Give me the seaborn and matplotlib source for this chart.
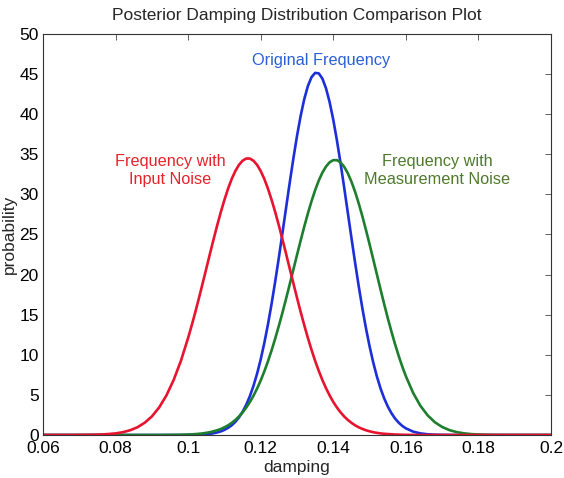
import matplotlib
matplotlib.use("Agg")
import matplotlib.pyplot as plt
import pandas as pd
import seaborn as sns

# damping grid (finer where the curves bend)
damping = [0.060, 0.062, 0.064, 0.066, 0.068, 0.070, 0.072, 0.074, 0.076, 0.078,
           0.080, 0.082, 0.084, 0.086, 0.088, 0.090, 0.092, 0.094, 0.096, 0.098,
           0.100, 0.101, 0.102, 0.103, 0.104, 0.105, 0.106, 0.107, 0.108, 0.109,
           0.110, 0.111, 0.112, 0.113, 0.114, 0.115, 0.116, 0.117, 0.118, 0.119,
           0.120, 0.121, 0.122, 0.123, 0.124, 0.125, 0.126, 0.127, 0.128, 0.129,
           0.130, 0.131, 0.132, 0.133, 0.134, 0.135, 0.136, 0.137, 0.138, 0.139,
           0.140, 0.141, 0.142, 0.143, 0.144, 0.145, 0.146, 0.147, 0.148, 0.149,
           0.150, 0.151, 0.152, 0.153, 0.154, 0.155, 0.156, 0.157, 0.158, 0.159,
           0.160, 0.162, 0.164, 0.166, 0.168, 0.170, 0.172, 0.174, 0.176, 0.178,
           0.180, 0.182, 0.184, 0.186, 0.188, 0.190, 0.192, 0.194, 0.196, 0.198,
           0.200]

original = [0.0, 0.0, 0.0, 0.0, 0.0, 0.0, 0.0, 0.0, 0.0, 0.0,
            0.0, 0.0, 0.0, 0.0, 0.0, 0.0, 0.0, 0.0, 0.0, 0.0,
            0.01, 0.02, 0.03, 0.04, 0.07, 0.10, 0.15, 0.22, 0.32, 0.45,
            0.64, 0.89, 1.21, 1.64, 2.19, 2.89, 3.76, 4.83, 6.12, 7.65,
            9.43, 11.49, 13.80, 16.37, 19.16, 22.12, 25.22, 28.36, 31.48, 34.48,
            37.28, 39.78, 41.88, 43.51, 44.62, 45.15, 45.09, 44.44, 43.22, 41.49,
            39.30, 36.74, 33.90, 30.86, 27.73, 24.59, 21.52, 18.58, 15.84, 13.32,
            11.06, 9.06, 7.32, 5.84, 4.60, 3.57, 2.74, 2.07, 1.55, 1.14,
            0.83, 0.42, 0.20, 0.09, 0.04, 0.02, 0.01, 0.0, 0.0, 0.0,
            0.0, 0.0, 0.0, 0.0, 0.0, 0.0, 0.0, 0.0, 0.0, 0.0,
            0.0]

measurement_noise = [0.0, 0.0, 0.0, 0.0, 0.0, 0.0, 0.0, 0.0, 0.0, 0.0,
                     0.0, 0.0, 0.0, 0.0, 0.0, 0.0, 0.0, 0.01, 0.02, 0.03,
                     0.06, 0.08, 0.11, 0.15, 0.20, 0.27, 0.35, 0.46, 0.59, 0.75,
                     0.96, 1.20, 1.51, 1.87, 2.30, 2.81, 3.41, 4.10, 4.89, 5.79,
                     6.81, 7.94, 9.19, 10.56, 12.04, 13.61, 15.27, 17.01, 18.81, 20.62,
                     22.45, 24.24, 25.98, 27.63, 29.15, 30.53, 31.73, 32.72, 33.48, 34.01,
                     34.27, 34.27, 33.99, 33.44, 32.64, 31.59, 30.34, 28.89, 27.30, 25.58,
                     23.78, 21.93, 20.06, 18.19, 16.37, 14.61, 12.94, 11.36, 9.90, 8.55,
                     7.33, 5.25, 3.65, 2.45, 1.59, 1.00, 0.61, 0.36, 0.21, 0.11,
                     0.06, 0.03, 0.01, 0.0, 0.0, 0.0, 0.0, 0.0, 0.0, 0.0,
                     0.0]

input_noise = [0.0, 0.0, 0.0, 0.0, 0.0, 0.01, 0.02, 0.03, 0.06, 0.12,
               0.20, 0.35, 0.59, 0.96, 1.52, 2.31, 3.43, 4.92, 6.85, 9.24,
               12.11, 13.69, 15.36, 17.11, 18.92, 20.74, 22.58, 24.38, 26.13, 27.79,
               29.32, 30.71, 31.92, 32.91, 33.68, 34.20, 34.47, 34.47, 34.20, 33.68,
               32.91, 31.92, 30.71, 29.32, 27.79, 26.13, 24.38, 22.58, 20.74, 18.92,
               17.11, 15.36, 13.69, 12.11, 10.62, 9.24, 7.99, 6.85, 5.83, 4.92,
               4.12, 3.43, 2.83, 2.31, 1.88, 1.52, 1.21, 0.96, 0.76, 0.59,
               0.46, 0.35, 0.27, 0.20, 0.15, 0.12, 0.09, 0.06, 0.05, 0.03,
               0.02, 0.01, 0.0, 0.0, 0.0, 0.0, 0.0, 0.0, 0.0, 0.0,
               0.0, 0.0, 0.0, 0.0, 0.0, 0.0, 0.0, 0.0, 0.0, 0.0,
               0.0]

series_names = ["Original Frequency", "Frequency with\nMeasurement Noise", "Frequency with\nInput Noise"]
line_colors = ["#1c2fd8", "#1d7f2e", "#e8132f"]
text_colors = ["#2a5fd6", "#4f7a2c", "#e5232b"]
label_pos = [(0.1366, 46.15), (0.1686, 33.0), (0.0950, 33.0)]

x_ticks = [0.06, 0.08, 0.1, 0.12, 0.14, 0.16, 0.18, 0.2]
x_tick_labels = ["0.06", "0.08", "0.1", "0.12", "0.14", "0.16", "0.18", "0.2"]
y_ticks = [0, 5, 10, 15, 20, 25, 30, 35, 40, 45, 50]


def build_frame():
    """Stack the three curves into one long table."""
    parts = []
    for name, vals in zip(series_names, [original, measurement_noise, input_noise]):
        parts.append(pd.DataFrame({"damping": damping, "probability": vals, "series": name}))
    return pd.concat(parts, ignore_index=True)


if __name__ == "__main__":
    sns.set_theme(style="white")
    plt.rcParams["font.family"] = ["Liberation Sans", "DejaVu Sans"]

    df = build_frame()

    fig = plt.figure(figsize=(5.64, 4.78), dpi=100)
    ax = fig.add_axes([43 / 564, 43 / 478, 508 / 564, 401 / 478])

    sns.lineplot(data=df, x="damping", y="probability", hue="series",
                 hue_order=series_names, palette=dict(zip(series_names, line_colors)),
                 linewidth=1.9, legend=False, ax=ax)

    for name, col, (tx, ty) in zip(series_names, text_colors, label_pos):
        va = "baseline" if "\n" not in name else "center"
        ax.text(tx, ty, name, color=col, fontsize=11.7, ha="center", va=va,
                multialignment="center", linespacing=1.2)

    ax.set_xlim(0.06, 0.2)
    ax.set_ylim(0, 50)
    ax.set_xticks(x_ticks)
    ax.set_xticklabels(x_tick_labels)
    ax.set_yticks(y_ticks)
    ax.tick_params(direction="in", top=True, right=True, length=4, width=0.6,
                   color="#444444", labelsize=12.5, labelcolor="black")
    ax.tick_params(axis="x", pad=4)
    ax.tick_params(axis="y", pad=3)
    for sp in ax.spines.values():
        sp.set_color("#333333")
        sp.set_linewidth(0.8)

    ax.set_title("Posterior Damping Distribution Comparison Plot", fontsize=12.5, pad=10)
    ax.set_xlabel("damping", fontsize=12.5, labelpad=3)
    ax.set_ylabel("probability", fontsize=12.5, labelpad=2)

    fig.savefig("out.png", dpi=100)
